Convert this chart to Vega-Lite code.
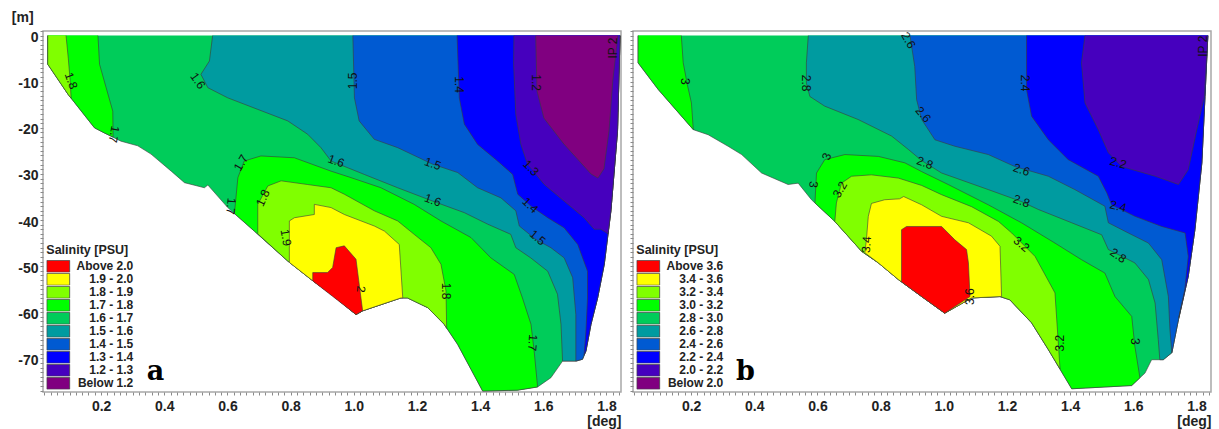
{
"$schema": "https://vega.github.io/schema/vega-lite/v6.json",
"background": "white",
"padding": {"left": 10, "top": 9, "right": 4, "bottom": 0},
"spacing": 12,
"bounds": "flush",
"resolve": {"scale": {"fill": "independent", "x": "independent", "y": "independent"}, "legend": {"fill": "independent"}},
"datasets": {
"polyA": [
{"cls":"1.6 - 1.7","poly":"a0","x":0.031,"y":0},{"cls":"1.6 - 1.7","poly":"a0","x":0.031,"y":-6.2},{"cls":"1.6 - 1.7","poly":"a0","x":0.095,"y":-12.7},{"cls":"1.6 - 1.7","poly":"a0","x":0.179,"y":-20.0},{"cls":"1.6 - 1.7","poly":"a0","x":0.210,"y":-21.1},{"cls":"1.6 - 1.7","poly":"a0","x":0.263,"y":-22.9},{"cls":"1.6 - 1.7","poly":"a0","x":0.316,"y":-23.9},{"cls":"1.6 - 1.7","poly":"a0","x":0.358,"y":-25.7},{"cls":"1.6 - 1.7","poly":"a0","x":0.422,"y":-29.4},{"cls":"1.6 - 1.7","poly":"a0","x":0.464,"y":-31.9},{"cls":"1.6 - 1.7","poly":"a0","x":0.527,"y":-33.0},{"cls":"1.6 - 1.7","poly":"a0","x":0.538,"y":-32.4},{"cls":"1.6 - 1.7","poly":"a0","x":0.601,"y":-37.3},{"cls":"1.6 - 1.7","poly":"a0","x":0.685,"y":-42.4},{"cls":"1.6 - 1.7","poly":"a0","x":0.791,"y":-48.9},{"cls":"1.6 - 1.7","poly":"a0","x":0.865,"y":-52.9},{"cls":"1.6 - 1.7","poly":"a0","x":0.928,"y":-56.1},{"cls":"1.6 - 1.7","poly":"a0","x":1.007,"y":-60.5},{"cls":"1.6 - 1.7","poly":"a0","x":1.028,"y":-59.7},{"cls":"1.6 - 1.7","poly":"a0","x":1.149,"y":-56.9},{"cls":"1.6 - 1.7","poly":"a0","x":1.170,"y":-56.9},{"cls":"1.6 - 1.7","poly":"a0","x":1.234,"y":-59.0},{"cls":"1.6 - 1.7","poly":"a0","x":1.286,"y":-62.6},{"cls":"1.6 - 1.7","poly":"a0","x":1.329,"y":-67.0},{"cls":"1.6 - 1.7","poly":"a0","x":1.408,"y":-77.1},{"cls":"1.6 - 1.7","poly":"a0","x":1.519,"y":-76.9},{"cls":"1.6 - 1.7","poly":"a0","x":1.582,"y":-76.2},{"cls":"1.6 - 1.7","poly":"a0","x":1.624,"y":-74.2},{"cls":"1.6 - 1.7","poly":"a0","x":1.661,"y":-70.6},{"cls":"1.6 - 1.7","poly":"a0","x":1.703,"y":-70.6},{"cls":"1.6 - 1.7","poly":"a0","x":1.724,"y":-70.2},{"cls":"1.6 - 1.7","poly":"a0","x":1.735,"y":-68.4},{"cls":"1.6 - 1.7","poly":"a0","x":1.751,"y":-62.6},{"cls":"1.6 - 1.7","poly":"a0","x":1.772,"y":-56.9},{"cls":"1.6 - 1.7","poly":"a0","x":1.793,"y":-49.6},{"cls":"1.6 - 1.7","poly":"a0","x":1.814,"y":-38.0},{"cls":"1.6 - 1.7","poly":"a0","x":1.835,"y":-20.7},{"cls":"1.6 - 1.7","poly":"a0","x":1.843,"y":0},
{"cls":"1.5 - 1.6","poly":"a1","x":0.553,"y":0},{"cls":"1.5 - 1.6","poly":"a1","x":0.543,"y":-5.5},{"cls":"1.5 - 1.6","poly":"a1","x":0.516,"y":-8.4},{"cls":"1.5 - 1.6","poly":"a1","x":0.538,"y":-11.3},{"cls":"1.5 - 1.6","poly":"a1","x":0.601,"y":-13.5},{"cls":"1.5 - 1.6","poly":"a1","x":0.696,"y":-16.0},{"cls":"1.5 - 1.6","poly":"a1","x":0.791,"y":-18.5},{"cls":"1.5 - 1.6","poly":"a1","x":0.854,"y":-21.4},{"cls":"1.5 - 1.6","poly":"a1","x":0.896,"y":-24.3},{"cls":"1.5 - 1.6","poly":"a1","x":0.928,"y":-27.2},{"cls":"1.5 - 1.6","poly":"a1","x":1.033,"y":-30.1},{"cls":"1.5 - 1.6","poly":"a1","x":1.139,"y":-33.0},{"cls":"1.5 - 1.6","poly":"a1","x":1.250,"y":-35.9},{"cls":"1.5 - 1.6","poly":"a1","x":1.350,"y":-38.4},{"cls":"1.5 - 1.6","poly":"a1","x":1.424,"y":-40.9},{"cls":"1.5 - 1.6","poly":"a1","x":1.497,"y":-43.1},{"cls":"1.5 - 1.6","poly":"a1","x":1.513,"y":-46.0},{"cls":"1.5 - 1.6","poly":"a1","x":1.560,"y":-48.2},{"cls":"1.5 - 1.6","poly":"a1","x":1.614,"y":-51.1},{"cls":"1.5 - 1.6","poly":"a1","x":1.645,"y":-56.1},{"cls":"1.5 - 1.6","poly":"a1","x":1.656,"y":-62.6},{"cls":"1.5 - 1.6","poly":"a1","x":1.661,"y":-70.6},{"cls":"1.5 - 1.6","poly":"a1","x":1.703,"y":-70.6},{"cls":"1.5 - 1.6","poly":"a1","x":1.724,"y":-70.2},{"cls":"1.5 - 1.6","poly":"a1","x":1.735,"y":-68.4},{"cls":"1.5 - 1.6","poly":"a1","x":1.751,"y":-62.6},{"cls":"1.5 - 1.6","poly":"a1","x":1.772,"y":-56.9},{"cls":"1.5 - 1.6","poly":"a1","x":1.793,"y":-49.6},{"cls":"1.5 - 1.6","poly":"a1","x":1.814,"y":-38.0},{"cls":"1.5 - 1.6","poly":"a1","x":1.835,"y":-20.7},{"cls":"1.5 - 1.6","poly":"a1","x":1.843,"y":0},
{"cls":"1.4 - 1.5","poly":"a2","x":0.997,"y":0},{"cls":"1.4 - 1.5","poly":"a2","x":1.002,"y":-13.5},{"cls":"1.4 - 1.5","poly":"a2","x":1.017,"y":-18.5},{"cls":"1.4 - 1.5","poly":"a2","x":1.065,"y":-22.5},{"cls":"1.4 - 1.5","poly":"a2","x":1.139,"y":-24.3},{"cls":"1.4 - 1.5","poly":"a2","x":1.250,"y":-27.9},{"cls":"1.4 - 1.5","poly":"a2","x":1.329,"y":-29.7},{"cls":"1.4 - 1.5","poly":"a2","x":1.392,"y":-33.0},{"cls":"1.4 - 1.5","poly":"a2","x":1.466,"y":-35.2},{"cls":"1.4 - 1.5","poly":"a2","x":1.513,"y":-38.0},{"cls":"1.4 - 1.5","poly":"a2","x":1.524,"y":-41.3},{"cls":"1.4 - 1.5","poly":"a2","x":1.576,"y":-44.2},{"cls":"1.4 - 1.5","poly":"a2","x":1.624,"y":-46.0},{"cls":"1.4 - 1.5","poly":"a2","x":1.666,"y":-48.2},{"cls":"1.4 - 1.5","poly":"a2","x":1.693,"y":-52.5},{"cls":"1.4 - 1.5","poly":"a2","x":1.703,"y":-60.5},{"cls":"1.4 - 1.5","poly":"a2","x":1.703,"y":-70.6},{"cls":"1.4 - 1.5","poly":"a2","x":1.724,"y":-70.2},{"cls":"1.4 - 1.5","poly":"a2","x":1.735,"y":-68.4},{"cls":"1.4 - 1.5","poly":"a2","x":1.751,"y":-62.6},{"cls":"1.4 - 1.5","poly":"a2","x":1.772,"y":-56.9},{"cls":"1.4 - 1.5","poly":"a2","x":1.793,"y":-49.6},{"cls":"1.4 - 1.5","poly":"a2","x":1.814,"y":-38.0},{"cls":"1.4 - 1.5","poly":"a2","x":1.835,"y":-20.7},{"cls":"1.4 - 1.5","poly":"a2","x":1.843,"y":0},
{"cls":"1.3 - 1.4","poly":"a3","x":1.327,"y":0},{"cls":"1.3 - 1.4","poly":"a3","x":1.334,"y":-13.5},{"cls":"1.3 - 1.4","poly":"a3","x":1.350,"y":-19.2},{"cls":"1.3 - 1.4","poly":"a3","x":1.392,"y":-23.6},{"cls":"1.3 - 1.4","poly":"a3","x":1.455,"y":-27.2},{"cls":"1.3 - 1.4","poly":"a3","x":1.503,"y":-30.1},{"cls":"1.3 - 1.4","poly":"a3","x":1.519,"y":-34.4},{"cls":"1.3 - 1.4","poly":"a3","x":1.561,"y":-37.0},{"cls":"1.3 - 1.4","poly":"a3","x":1.614,"y":-39.5},{"cls":"1.3 - 1.4","poly":"a3","x":1.666,"y":-41.7},{"cls":"1.3 - 1.4","poly":"a3","x":1.709,"y":-45.3},{"cls":"1.3 - 1.4","poly":"a3","x":1.740,"y":-51.1},{"cls":"1.3 - 1.4","poly":"a3","x":1.740,"y":-56.9},{"cls":"1.3 - 1.4","poly":"a3","x":1.735,"y":-64.1},{"cls":"1.3 - 1.4","poly":"a3","x":1.729,"y":-69.3},{"cls":"1.3 - 1.4","poly":"a3","x":1.735,"y":-68.4},{"cls":"1.3 - 1.4","poly":"a3","x":1.751,"y":-62.6},{"cls":"1.3 - 1.4","poly":"a3","x":1.772,"y":-56.9},{"cls":"1.3 - 1.4","poly":"a3","x":1.793,"y":-49.6},{"cls":"1.3 - 1.4","poly":"a3","x":1.814,"y":-38.0},{"cls":"1.3 - 1.4","poly":"a3","x":1.835,"y":-20.7},{"cls":"1.3 - 1.4","poly":"a3","x":1.843,"y":0},
{"cls":"1.2 - 1.3","poly":"a4","x":1.507,"y":0},{"cls":"1.2 - 1.3","poly":"a4","x":1.506,"y":-6.2},{"cls":"1.2 - 1.3","poly":"a4","x":1.513,"y":-17.1},{"cls":"1.2 - 1.3","poly":"a4","x":1.529,"y":-23.6},{"cls":"1.2 - 1.3","poly":"a4","x":1.550,"y":-27.9},{"cls":"1.2 - 1.3","poly":"a4","x":1.603,"y":-32.3},{"cls":"1.2 - 1.3","poly":"a4","x":1.666,"y":-35.9},{"cls":"1.2 - 1.3","poly":"a4","x":1.729,"y":-39.5},{"cls":"1.2 - 1.3","poly":"a4","x":1.761,"y":-42.0},{"cls":"1.2 - 1.3","poly":"a4","x":1.782,"y":-42.0},{"cls":"1.2 - 1.3","poly":"a4","x":1.805,"y":-43.0},{"cls":"1.2 - 1.3","poly":"a4","x":1.814,"y":-38.0},{"cls":"1.2 - 1.3","poly":"a4","x":1.835,"y":-20.7},{"cls":"1.2 - 1.3","poly":"a4","x":1.843,"y":0},
{"cls":"Below 1.2","poly":"a5","x":1.576,"y":0},{"cls":"Below 1.2","poly":"a5","x":1.580,"y":-12.0},{"cls":"Below 1.2","poly":"a5","x":1.602,"y":-17.9},{"cls":"Below 1.2","poly":"a5","x":1.665,"y":-23.5},{"cls":"Below 1.2","poly":"a5","x":1.751,"y":-30.0},{"cls":"Below 1.2","poly":"a5","x":1.773,"y":-30.9},{"cls":"Below 1.2","poly":"a5","x":1.792,"y":-28.9},{"cls":"Below 1.2","poly":"a5","x":1.808,"y":-20.7},{"cls":"Below 1.2","poly":"a5","x":1.820,"y":-9.8},{"cls":"Below 1.2","poly":"a5","x":1.836,"y":0},
{"cls":"1.7 - 1.8","poly":"a6a","x":0.190,"y":0},{"cls":"1.7 - 1.8","poly":"a6a","x":0.195,"y":-6.2},{"cls":"1.7 - 1.8","poly":"a6a","x":0.216,"y":-11.3},{"cls":"1.7 - 1.8","poly":"a6a","x":0.237,"y":-16.4},{"cls":"1.7 - 1.8","poly":"a6a","x":0.238,"y":-22.0},{"cls":"1.7 - 1.8","poly":"a6a","x":0.210,"y":-21.1},{"cls":"1.7 - 1.8","poly":"a6a","x":0.179,"y":-20.0},{"cls":"1.7 - 1.8","poly":"a6a","x":0.095,"y":-12.7},{"cls":"1.7 - 1.8","poly":"a6a","x":0.031,"y":-6.2},{"cls":"1.7 - 1.8","poly":"a6a","x":0.031,"y":0},
{"cls":"1.7 - 1.8","poly":"a6b","x":0.622,"y":-38.6},{"cls":"1.7 - 1.8","poly":"a6b","x":0.633,"y":-30.8},{"cls":"1.7 - 1.8","poly":"a6b","x":0.653,"y":-27.2},{"cls":"1.7 - 1.8","poly":"a6b","x":0.706,"y":-26.1},{"cls":"1.7 - 1.8","poly":"a6b","x":0.812,"y":-26.5},{"cls":"1.7 - 1.8","poly":"a6b","x":0.928,"y":-29.4},{"cls":"1.7 - 1.8","poly":"a6b","x":0.991,"y":-30.8},{"cls":"1.7 - 1.8","poly":"a6b","x":1.086,"y":-33.0},{"cls":"1.7 - 1.8","poly":"a6b","x":1.191,"y":-36.6},{"cls":"1.7 - 1.8","poly":"a6b","x":1.276,"y":-40.2},{"cls":"1.7 - 1.8","poly":"a6b","x":1.371,"y":-43.8},{"cls":"1.7 - 1.8","poly":"a6b","x":1.434,"y":-48.2},{"cls":"1.7 - 1.8","poly":"a6b","x":1.508,"y":-51.8},{"cls":"1.7 - 1.8","poly":"a6b","x":1.534,"y":-56.9},{"cls":"1.7 - 1.8","poly":"a6b","x":1.561,"y":-62.6},{"cls":"1.7 - 1.8","poly":"a6b","x":1.571,"y":-68.4},{"cls":"1.7 - 1.8","poly":"a6b","x":1.582,"y":-76.2},{"cls":"1.7 - 1.8","poly":"a6b","x":1.519,"y":-76.9},{"cls":"1.7 - 1.8","poly":"a6b","x":1.408,"y":-77.1},{"cls":"1.7 - 1.8","poly":"a6b","x":1.329,"y":-67.0},{"cls":"1.7 - 1.8","poly":"a6b","x":1.286,"y":-62.6},{"cls":"1.7 - 1.8","poly":"a6b","x":1.234,"y":-59.0},{"cls":"1.7 - 1.8","poly":"a6b","x":1.170,"y":-56.9},{"cls":"1.7 - 1.8","poly":"a6b","x":1.149,"y":-56.9},{"cls":"1.7 - 1.8","poly":"a6b","x":1.028,"y":-59.7},{"cls":"1.7 - 1.8","poly":"a6b","x":1.007,"y":-60.5},{"cls":"1.7 - 1.8","poly":"a6b","x":0.928,"y":-56.1},{"cls":"1.7 - 1.8","poly":"a6b","x":0.865,"y":-52.9},{"cls":"1.7 - 1.8","poly":"a6b","x":0.791,"y":-48.9},{"cls":"1.7 - 1.8","poly":"a6b","x":0.685,"y":-42.4},{"cls":"1.7 - 1.8","poly":"a6b","x":0.622,"y":-38.6},
{"cls":"1.8 - 1.9","poly":"a7a","x":0.089,"y":0},{"cls":"1.8 - 1.9","poly":"a7a","x":0.096,"y":-4.9},{"cls":"1.8 - 1.9","poly":"a7a","x":0.102,"y":-9.8},{"cls":"1.8 - 1.9","poly":"a7a","x":0.105,"y":-13.6},{"cls":"1.8 - 1.9","poly":"a7a","x":0.095,"y":-12.7},{"cls":"1.8 - 1.9","poly":"a7a","x":0.031,"y":-6.2},{"cls":"1.8 - 1.9","poly":"a7a","x":0.031,"y":0},
{"cls":"1.8 - 1.9","poly":"a7b","x":0.696,"y":-43.0},{"cls":"1.8 - 1.9","poly":"a7b","x":0.696,"y":-36.6},{"cls":"1.8 - 1.9","poly":"a7b","x":0.728,"y":-32.6},{"cls":"1.8 - 1.9","poly":"a7b","x":0.770,"y":-31.5},{"cls":"1.8 - 1.9","poly":"a7b","x":0.854,"y":-32.3},{"cls":"1.8 - 1.9","poly":"a7b","x":0.928,"y":-33.0},{"cls":"1.8 - 1.9","poly":"a7b","x":0.970,"y":-34.4},{"cls":"1.8 - 1.9","poly":"a7b","x":1.065,"y":-38.0},{"cls":"1.8 - 1.9","poly":"a7b","x":1.139,"y":-40.2},{"cls":"1.8 - 1.9","poly":"a7b","x":1.191,"y":-43.1},{"cls":"1.8 - 1.9","poly":"a7b","x":1.244,"y":-46.0},{"cls":"1.8 - 1.9","poly":"a7b","x":1.276,"y":-49.6},{"cls":"1.8 - 1.9","poly":"a7b","x":1.292,"y":-55.4},{"cls":"1.8 - 1.9","poly":"a7b","x":1.294,"y":-63.5},{"cls":"1.8 - 1.9","poly":"a7b","x":1.286,"y":-62.6},{"cls":"1.8 - 1.9","poly":"a7b","x":1.234,"y":-59.0},{"cls":"1.8 - 1.9","poly":"a7b","x":1.170,"y":-56.9},{"cls":"1.8 - 1.9","poly":"a7b","x":1.149,"y":-56.9},{"cls":"1.8 - 1.9","poly":"a7b","x":1.028,"y":-59.7},{"cls":"1.8 - 1.9","poly":"a7b","x":1.007,"y":-60.5},{"cls":"1.8 - 1.9","poly":"a7b","x":0.928,"y":-56.1},{"cls":"1.8 - 1.9","poly":"a7b","x":0.865,"y":-52.9},{"cls":"1.8 - 1.9","poly":"a7b","x":0.791,"y":-48.9},{"cls":"1.8 - 1.9","poly":"a7b","x":0.696,"y":-43.0},
{"cls":"1.9 - 2.0","poly":"a8","x":0.796,"y":-49.2},{"cls":"1.9 - 2.0","poly":"a8","x":0.796,"y":-40.2},{"cls":"1.9 - 2.0","poly":"a8","x":0.812,"y":-39.5},{"cls":"1.9 - 2.0","poly":"a8","x":0.875,"y":-38.8},{"cls":"1.9 - 2.0","poly":"a8","x":0.875,"y":-36.6},{"cls":"1.9 - 2.0","poly":"a8","x":0.928,"y":-37.3},{"cls":"1.9 - 2.0","poly":"a8","x":0.970,"y":-38.8},{"cls":"1.9 - 2.0","poly":"a8","x":1.065,"y":-41.3},{"cls":"1.9 - 2.0","poly":"a8","x":1.097,"y":-42.4},{"cls":"1.9 - 2.0","poly":"a8","x":1.144,"y":-45.3},{"cls":"1.9 - 2.0","poly":"a8","x":1.155,"y":-56.9},{"cls":"1.9 - 2.0","poly":"a8","x":1.149,"y":-56.9},{"cls":"1.9 - 2.0","poly":"a8","x":1.028,"y":-59.7},{"cls":"1.9 - 2.0","poly":"a8","x":1.007,"y":-60.5},{"cls":"1.9 - 2.0","poly":"a8","x":0.928,"y":-56.1},{"cls":"1.9 - 2.0","poly":"a8","x":0.865,"y":-52.9},{"cls":"1.9 - 2.0","poly":"a8","x":0.796,"y":-49.2},
{"cls":"Above 2.0","poly":"a9","x":0.944,"y":-46.0},{"cls":"Above 2.0","poly":"a9","x":0.970,"y":-45.6},{"cls":"Above 2.0","poly":"a9","x":1.007,"y":-48.5},{"cls":"Above 2.0","poly":"a9","x":1.028,"y":-59.7},{"cls":"Above 2.0","poly":"a9","x":1.007,"y":-60.5},{"cls":"Above 2.0","poly":"a9","x":0.870,"y":-53.2},{"cls":"Above 2.0","poly":"a9","x":0.870,"y":-51.4},{"cls":"Above 2.0","poly":"a9","x":0.917,"y":-51.4},{"cls":"Above 2.0","poly":"a9","x":0.933,"y":-50.3},{"cls":"Above 2.0","poly":"a9","x":0.944,"y":-46.0}
],
"polyB": [
{"cls":"2.8 - 3.0","poly":"b0","x":0.032,"y":0},{"cls":"2.8 - 3.0","poly":"b0","x":0.032,"y":-5.9},{"cls":"2.8 - 3.0","poly":"b0","x":0.096,"y":-11.7},{"cls":"2.8 - 3.0","poly":"b0","x":0.207,"y":-20.4},{"cls":"2.8 - 3.0","poly":"b0","x":0.254,"y":-21.5},{"cls":"2.8 - 3.0","poly":"b0","x":0.317,"y":-24.0},{"cls":"2.8 - 3.0","poly":"b0","x":0.360,"y":-25.8},{"cls":"2.8 - 3.0","poly":"b0","x":0.423,"y":-29.8},{"cls":"2.8 - 3.0","poly":"b0","x":0.507,"y":-32.3},{"cls":"2.8 - 3.0","poly":"b0","x":0.539,"y":-32.0},{"cls":"2.8 - 3.0","poly":"b0","x":0.581,"y":-35.6},{"cls":"2.8 - 3.0","poly":"b0","x":0.655,"y":-40.3},{"cls":"2.8 - 3.0","poly":"b0","x":0.740,"y":-46.8},{"cls":"2.8 - 3.0","poly":"b0","x":0.793,"y":-49.3},{"cls":"2.8 - 3.0","poly":"b0","x":0.856,"y":-52.9},{"cls":"2.8 - 3.0","poly":"b0","x":0.930,"y":-56.6},{"cls":"2.8 - 3.0","poly":"b0","x":1.003,"y":-60.2},{"cls":"2.8 - 3.0","poly":"b0","x":1.088,"y":-56.9},{"cls":"2.8 - 3.0","poly":"b0","x":1.178,"y":-56.6},{"cls":"2.8 - 3.0","poly":"b0","x":1.209,"y":-57.3},{"cls":"2.8 - 3.0","poly":"b0","x":1.278,"y":-62.3},{"cls":"2.8 - 3.0","poly":"b0","x":1.331,"y":-68.1},{"cls":"2.8 - 3.0","poly":"b0","x":1.405,"y":-76.6},{"cls":"2.8 - 3.0","poly":"b0","x":1.595,"y":-75.9},{"cls":"2.8 - 3.0","poly":"b0","x":1.637,"y":-73.2},{"cls":"2.8 - 3.0","poly":"b0","x":1.658,"y":-70.3},{"cls":"2.8 - 3.0","poly":"b0","x":1.695,"y":-70.3},{"cls":"2.8 - 3.0","poly":"b0","x":1.722,"y":-68.8},{"cls":"2.8 - 3.0","poly":"b0","x":1.743,"y":-61.6},{"cls":"2.8 - 3.0","poly":"b0","x":1.774,"y":-52.2},{"cls":"2.8 - 3.0","poly":"b0","x":1.795,"y":-42.1},{"cls":"2.8 - 3.0","poly":"b0","x":1.817,"y":-27.6},{"cls":"2.8 - 3.0","poly":"b0","x":1.827,"y":-13.2},{"cls":"2.8 - 3.0","poly":"b0","x":1.836,"y":0},
{"cls":"2.6 - 2.8","poly":"b1","x":0.571,"y":0},{"cls":"2.6 - 2.8","poly":"b1","x":0.565,"y":-5.9},{"cls":"2.6 - 2.8","poly":"b1","x":0.565,"y":-10.3},{"cls":"2.6 - 2.8","poly":"b1","x":0.576,"y":-13.2},{"cls":"2.6 - 2.8","poly":"b1","x":0.623,"y":-15.3},{"cls":"2.6 - 2.8","poly":"b1","x":0.729,"y":-18.2},{"cls":"2.6 - 2.8","poly":"b1","x":0.835,"y":-21.8},{"cls":"2.6 - 2.8","poly":"b1","x":0.888,"y":-24.7},{"cls":"2.6 - 2.8","poly":"b1","x":0.930,"y":-27.1},{"cls":"2.6 - 2.8","poly":"b1","x":0.993,"y":-29.8},{"cls":"2.6 - 2.8","poly":"b1","x":1.141,"y":-33.4},{"cls":"2.6 - 2.8","poly":"b1","x":1.246,"y":-36.0},{"cls":"2.6 - 2.8","poly":"b1","x":1.299,"y":-37.7},{"cls":"2.6 - 2.8","poly":"b1","x":1.405,"y":-40.6},{"cls":"2.6 - 2.8","poly":"b1","x":1.500,"y":-43.2},{"cls":"2.6 - 2.8","poly":"b1","x":1.521,"y":-46.4},{"cls":"2.6 - 2.8","poly":"b1","x":1.605,"y":-49.3},{"cls":"2.6 - 2.8","poly":"b1","x":1.648,"y":-52.9},{"cls":"2.6 - 2.8","poly":"b1","x":1.669,"y":-58.0},{"cls":"2.6 - 2.8","poly":"b1","x":1.679,"y":-65.9},{"cls":"2.6 - 2.8","poly":"b1","x":1.684,"y":-70.3},{"cls":"2.6 - 2.8","poly":"b1","x":1.695,"y":-70.3},{"cls":"2.6 - 2.8","poly":"b1","x":1.722,"y":-68.8},{"cls":"2.6 - 2.8","poly":"b1","x":1.743,"y":-61.6},{"cls":"2.6 - 2.8","poly":"b1","x":1.774,"y":-52.2},{"cls":"2.6 - 2.8","poly":"b1","x":1.795,"y":-42.1},{"cls":"2.6 - 2.8","poly":"b1","x":1.817,"y":-27.6},{"cls":"2.6 - 2.8","poly":"b1","x":1.827,"y":-13.2},{"cls":"2.6 - 2.8","poly":"b1","x":1.836,"y":0},
{"cls":"2.4 - 2.6","poly":"b2","x":0.893,"y":0},{"cls":"2.4 - 2.6","poly":"b2","x":0.908,"y":-6.7},{"cls":"2.4 - 2.6","poly":"b2","x":0.914,"y":-13.9},{"cls":"2.4 - 2.6","poly":"b2","x":0.930,"y":-18.2},{"cls":"2.4 - 2.6","poly":"b2","x":0.972,"y":-22.6},{"cls":"2.4 - 2.6","poly":"b2","x":1.035,"y":-24.0},{"cls":"2.4 - 2.6","poly":"b2","x":1.141,"y":-25.8},{"cls":"2.4 - 2.6","poly":"b2","x":1.225,"y":-28.4},{"cls":"2.4 - 2.6","poly":"b2","x":1.331,"y":-30.5},{"cls":"2.4 - 2.6","poly":"b2","x":1.415,"y":-33.4},{"cls":"2.4 - 2.6","poly":"b2","x":1.510,"y":-37.0},{"cls":"2.4 - 2.6","poly":"b2","x":1.521,"y":-40.6},{"cls":"2.4 - 2.6","poly":"b2","x":1.584,"y":-42.8},{"cls":"2.4 - 2.6","poly":"b2","x":1.648,"y":-45.0},{"cls":"2.4 - 2.6","poly":"b2","x":1.690,"y":-48.6},{"cls":"2.4 - 2.6","poly":"b2","x":1.711,"y":-56.6},{"cls":"2.4 - 2.6","poly":"b2","x":1.716,"y":-63.8},{"cls":"2.4 - 2.6","poly":"b2","x":1.722,"y":-68.8},{"cls":"2.4 - 2.6","poly":"b2","x":1.743,"y":-61.6},{"cls":"2.4 - 2.6","poly":"b2","x":1.774,"y":-52.2},{"cls":"2.4 - 2.6","poly":"b2","x":1.795,"y":-42.1},{"cls":"2.4 - 2.6","poly":"b2","x":1.817,"y":-27.6},{"cls":"2.4 - 2.6","poly":"b2","x":1.827,"y":-13.2},{"cls":"2.4 - 2.6","poly":"b2","x":1.836,"y":0},
{"cls":"2.2 - 2.4","poly":"b3","x":1.262,"y":0},{"cls":"2.2 - 2.4","poly":"b3","x":1.262,"y":-11.7},{"cls":"2.2 - 2.4","poly":"b3","x":1.278,"y":-17.5},{"cls":"2.2 - 2.4","poly":"b3","x":1.331,"y":-22.6},{"cls":"2.2 - 2.4","poly":"b3","x":1.394,"y":-26.9},{"cls":"2.2 - 2.4","poly":"b3","x":1.489,"y":-30.5},{"cls":"2.2 - 2.4","poly":"b3","x":1.516,"y":-34.1},{"cls":"2.2 - 2.4","poly":"b3","x":1.531,"y":-36.7},{"cls":"2.2 - 2.4","poly":"b3","x":1.605,"y":-39.2},{"cls":"2.2 - 2.4","poly":"b3","x":1.690,"y":-41.4},{"cls":"2.2 - 2.4","poly":"b3","x":1.764,"y":-42.8},{"cls":"2.2 - 2.4","poly":"b3","x":1.774,"y":-47.9},{"cls":"2.2 - 2.4","poly":"b3","x":1.763,"y":-55.1},{"cls":"2.2 - 2.4","poly":"b3","x":1.744,"y":-61.2},{"cls":"2.2 - 2.4","poly":"b3","x":1.774,"y":-52.2},{"cls":"2.2 - 2.4","poly":"b3","x":1.795,"y":-42.1},{"cls":"2.2 - 2.4","poly":"b3","x":1.817,"y":-27.6},{"cls":"2.2 - 2.4","poly":"b3","x":1.827,"y":-13.2},{"cls":"2.2 - 2.4","poly":"b3","x":1.836,"y":0},
{"cls":"2.0 - 2.2","poly":"b4","x":1.447,"y":0},{"cls":"2.0 - 2.2","poly":"b4","x":1.436,"y":-5.9},{"cls":"2.0 - 2.2","poly":"b4","x":1.447,"y":-14.6},{"cls":"2.0 - 2.2","poly":"b4","x":1.489,"y":-20.4},{"cls":"2.0 - 2.2","poly":"b4","x":1.521,"y":-25.4},{"cls":"2.0 - 2.2","poly":"b4","x":1.563,"y":-28.4},{"cls":"2.0 - 2.2","poly":"b4","x":1.669,"y":-30.5},{"cls":"2.0 - 2.2","poly":"b4","x":1.743,"y":-32.3},{"cls":"2.0 - 2.2","poly":"b4","x":1.774,"y":-29.1},{"cls":"2.0 - 2.2","poly":"b4","x":1.801,"y":-20.4},{"cls":"2.0 - 2.2","poly":"b4","x":1.825,"y":-13.2},{"cls":"2.0 - 2.2","poly":"b4","x":1.836,"y":0},
{"cls":"3.0 - 3.2","poly":"b5a","x":0.169,"y":0},{"cls":"3.0 - 3.2","poly":"b5a","x":0.175,"y":-5.9},{"cls":"3.0 - 3.2","poly":"b5a","x":0.188,"y":-10.6},{"cls":"3.0 - 3.2","poly":"b5a","x":0.201,"y":-14.6},{"cls":"3.0 - 3.2","poly":"b5a","x":0.207,"y":-20.4},{"cls":"3.0 - 3.2","poly":"b5a","x":0.096,"y":-11.7},{"cls":"3.0 - 3.2","poly":"b5a","x":0.032,"y":-5.9},{"cls":"3.0 - 3.2","poly":"b5a","x":0.032,"y":0},
{"cls":"3.0 - 3.2","poly":"b5b","x":0.592,"y":-36.3},{"cls":"3.0 - 3.2","poly":"b5b","x":0.597,"y":-29.8},{"cls":"3.0 - 3.2","poly":"b5b","x":0.623,"y":-26.9},{"cls":"3.0 - 3.2","poly":"b5b","x":0.687,"y":-25.8},{"cls":"3.0 - 3.2","poly":"b5b","x":0.793,"y":-26.2},{"cls":"3.0 - 3.2","poly":"b5b","x":0.877,"y":-27.6},{"cls":"3.0 - 3.2","poly":"b5b","x":0.930,"y":-29.5},{"cls":"3.0 - 3.2","poly":"b5b","x":1.014,"y":-32.3},{"cls":"3.0 - 3.2","poly":"b5b","x":1.141,"y":-36.7},{"cls":"3.0 - 3.2","poly":"b5b","x":1.246,"y":-40.6},{"cls":"3.0 - 3.2","poly":"b5b","x":1.352,"y":-45.0},{"cls":"3.0 - 3.2","poly":"b5b","x":1.436,"y":-48.6},{"cls":"3.0 - 3.2","poly":"b5b","x":1.510,"y":-51.5},{"cls":"3.0 - 3.2","poly":"b5b","x":1.542,"y":-56.6},{"cls":"3.0 - 3.2","poly":"b5b","x":1.595,"y":-60.9},{"cls":"3.0 - 3.2","poly":"b5b","x":1.605,"y":-67.4},{"cls":"3.0 - 3.2","poly":"b5b","x":1.621,"y":-74.2},{"cls":"3.0 - 3.2","poly":"b5b","x":1.595,"y":-75.9},{"cls":"3.0 - 3.2","poly":"b5b","x":1.405,"y":-76.6},{"cls":"3.0 - 3.2","poly":"b5b","x":1.331,"y":-68.1},{"cls":"3.0 - 3.2","poly":"b5b","x":1.278,"y":-62.3},{"cls":"3.0 - 3.2","poly":"b5b","x":1.209,"y":-57.3},{"cls":"3.0 - 3.2","poly":"b5b","x":1.178,"y":-56.6},{"cls":"3.0 - 3.2","poly":"b5b","x":1.088,"y":-56.9},{"cls":"3.0 - 3.2","poly":"b5b","x":1.003,"y":-60.2},{"cls":"3.0 - 3.2","poly":"b5b","x":0.930,"y":-56.6},{"cls":"3.0 - 3.2","poly":"b5b","x":0.856,"y":-52.9},{"cls":"3.0 - 3.2","poly":"b5b","x":0.793,"y":-49.3},{"cls":"3.0 - 3.2","poly":"b5b","x":0.740,"y":-46.8},{"cls":"3.0 - 3.2","poly":"b5b","x":0.655,"y":-40.3},{"cls":"3.0 - 3.2","poly":"b5b","x":0.592,"y":-36.3},
{"cls":"3.2 - 3.4","poly":"b6","x":0.655,"y":-40.3},{"cls":"3.2 - 3.4","poly":"b6","x":0.660,"y":-36.3},{"cls":"3.2 - 3.4","poly":"b6","x":0.676,"y":-32.0},{"cls":"3.2 - 3.4","poly":"b6","x":0.708,"y":-30.5},{"cls":"3.2 - 3.4","poly":"b6","x":0.771,"y":-30.2},{"cls":"3.2 - 3.4","poly":"b6","x":0.856,"y":-30.9},{"cls":"3.2 - 3.4","poly":"b6","x":0.930,"y":-32.5},{"cls":"3.2 - 3.4","poly":"b6","x":0.993,"y":-34.5},{"cls":"3.2 - 3.4","poly":"b6","x":1.088,"y":-37.1},{"cls":"3.2 - 3.4","poly":"b6","x":1.173,"y":-40.3},{"cls":"3.2 - 3.4","poly":"b6","x":1.215,"y":-42.8},{"cls":"3.2 - 3.4","poly":"b6","x":1.289,"y":-47.9},{"cls":"3.2 - 3.4","poly":"b6","x":1.352,"y":-55.8},{"cls":"3.2 - 3.4","poly":"b6","x":1.368,"y":-72.3},{"cls":"3.2 - 3.4","poly":"b6","x":1.331,"y":-68.1},{"cls":"3.2 - 3.4","poly":"b6","x":1.278,"y":-62.3},{"cls":"3.2 - 3.4","poly":"b6","x":1.209,"y":-57.3},{"cls":"3.2 - 3.4","poly":"b6","x":1.178,"y":-56.6},{"cls":"3.2 - 3.4","poly":"b6","x":1.088,"y":-56.9},{"cls":"3.2 - 3.4","poly":"b6","x":1.003,"y":-60.2},{"cls":"3.2 - 3.4","poly":"b6","x":0.930,"y":-56.6},{"cls":"3.2 - 3.4","poly":"b6","x":0.856,"y":-52.9},{"cls":"3.2 - 3.4","poly":"b6","x":0.793,"y":-49.3},{"cls":"3.2 - 3.4","poly":"b6","x":0.740,"y":-46.8},{"cls":"3.2 - 3.4","poly":"b6","x":0.655,"y":-40.3},
{"cls":"3.4 - 3.6","poly":"b7","x":0.750,"y":-47.1},{"cls":"3.4 - 3.6","poly":"b7","x":0.755,"y":-44.3},{"cls":"3.4 - 3.6","poly":"b7","x":0.761,"y":-39.2},{"cls":"3.4 - 3.6","poly":"b7","x":0.771,"y":-36.4},{"cls":"3.4 - 3.6","poly":"b7","x":0.813,"y":-35.6},{"cls":"3.4 - 3.6","poly":"b7","x":0.860,"y":-35.4},{"cls":"3.4 - 3.6","poly":"b7","x":0.873,"y":-34.9},{"cls":"3.4 - 3.6","poly":"b7","x":0.930,"y":-36.7},{"cls":"3.4 - 3.6","poly":"b7","x":0.993,"y":-39.2},{"cls":"3.4 - 3.6","poly":"b7","x":1.078,"y":-40.6},{"cls":"3.4 - 3.6","poly":"b7","x":1.151,"y":-43.5},{"cls":"3.4 - 3.6","poly":"b7","x":1.178,"y":-45.7},{"cls":"3.4 - 3.6","poly":"b7","x":1.183,"y":-56.6},{"cls":"3.4 - 3.6","poly":"b7","x":1.178,"y":-56.6},{"cls":"3.4 - 3.6","poly":"b7","x":1.088,"y":-56.9},{"cls":"3.4 - 3.6","poly":"b7","x":1.003,"y":-60.2},{"cls":"3.4 - 3.6","poly":"b7","x":0.930,"y":-56.6},{"cls":"3.4 - 3.6","poly":"b7","x":0.856,"y":-52.9},{"cls":"3.4 - 3.6","poly":"b7","x":0.793,"y":-49.3},{"cls":"3.4 - 3.6","poly":"b7","x":0.750,"y":-47.1},
{"cls":"Above 3.6","poly":"b8","x":0.866,"y":-42.1},{"cls":"Above 3.6","poly":"b8","x":0.882,"y":-41.4},{"cls":"Above 3.6","poly":"b8","x":0.993,"y":-41.4},{"cls":"Above 3.6","poly":"b8","x":1.035,"y":-44.3},{"cls":"Above 3.6","poly":"b8","x":1.072,"y":-46.4},{"cls":"Above 3.6","poly":"b8","x":1.078,"y":-49.3},{"cls":"Above 3.6","poly":"b8","x":1.083,"y":-56.6},{"cls":"Above 3.6","poly":"b8","x":1.003,"y":-60.2},{"cls":"Above 3.6","poly":"b8","x":0.930,"y":-56.6},{"cls":"Above 3.6","poly":"b8","x":0.866,"y":-53.4},{"cls":"Above 3.6","poly":"b8","x":0.866,"y":-42.1}
],
"labA": [
{"t":"1.8","x":0.105,"y":-9.8,"a":70},{"t":"1.7","x":0.241,"y":-21.4,"a":100},{"t":"1.6","x":0.506,"y":-9.8,"a":55},{"t":"1.7","x":0.643,"y":-27.6,"a":-60},{"t":"1.7","x":0.611,"y":-37.0,"a":95},{"t":"1.8","x":0.712,"y":-35.2,"a":-65},{"t":"1.9","x":0.785,"y":-43.8,"a":80},{"t":"2","x":1.023,"y":-55.0,"a":95},{"t":"1.8","x":1.292,"y":-55.4,"a":90},{"t":"1.7","x":1.566,"y":-66.6,"a":95},{"t":"1.5","x":0.997,"y":-9.8,"a":-90},{"t":"1.4","x":1.334,"y":-10.6,"a":90},{"t":"1.2","x":1.576,"y":-10.2,"a":90},{"t":"1.6","x":0.944,"y":-27.2,"a":20},{"t":"1.5","x":1.250,"y":-27.8,"a":20},{"t":"1.6","x":1.250,"y":-35.7,"a":20},{"t":"1.3","x":1.561,"y":-28.7,"a":45},{"t":"1.4","x":1.559,"y":-36.8,"a":45},{"t":"1.5","x":1.582,"y":-43.8,"a":40},{"t":"IP 2","x":1.820,"y":-2.7,"a":-90}
],
"labB": [
{"t":"3","x":0.180,"y":-9.9,"a":90},{"t":"2.8","x":0.565,"y":-10.3,"a":90},{"t":"2.6","x":0.888,"y":-1.0,"a":60},{"t":"2.6","x":0.935,"y":-17.1,"a":50},{"t":"2.8","x":0.940,"y":-27.6,"a":20},{"t":"3","x":0.629,"y":-26.2,"a":-70},{"t":"3","x":0.587,"y":-32.3,"a":95},{"t":"3.2","x":0.671,"y":-33.4,"a":-60},{"t":"3.4","x":0.755,"y":-45.3,"a":-85},{"t":"2.4","x":1.257,"y":-10.3,"a":90},{"t":"2.6","x":1.246,"y":-29.1,"a":20},{"t":"2.8","x":1.246,"y":-35.9,"a":20},{"t":"3.2","x":1.246,"y":-45.2,"a":40},{"t":"2.2","x":1.552,"y":-27.6,"a":15},{"t":"2.4","x":1.552,"y":-37.0,"a":15},{"t":"2.8","x":1.552,"y":-47.7,"a":35},{"t":"3.6","x":1.083,"y":-56.6,"a":-90},{"t":"3.2","x":1.368,"y":-66.7,"a":-90},{"t":"3","x":1.605,"y":-66.3,"a":90},{"t":"IP 2","x":1.822,"y":-2.3,"a":-90}
]
},
"hconcat": [
{
"width": 578, "height": 361,
"encoding": {
"x": {"field": "x", "type": "quantitative", "scale": {"domain": [0.016, 1.846], "nice": false, "zero": false},
 "axis": {"title": "[deg]", "titleX": 578, "titleY": 29, "titleAlign": "right", "titleBaseline": "middle", "tickCount": 92, "labelExpr": "abs(datum.value*5-round(datum.value*5))<0.001 ? format(datum.value,'.1f') : ''", "labelPadding": 4}},
"y": {"field": "y", "type": "quantitative", "scale": {"domain": [-77.3, 1], "nice": false, "zero": false},
 "axis": {"title": "[m]", "titleX": -31.7, "titleY": -14, "titleAngle": 0, "titleAlign": "left", "titleBaseline": "middle", "tickCount": 79, "labelExpr": "datum.value%10==0 ? (datum.value==0 ? '0' : '-'+abs(datum.value)) : ''", "labelPadding": 2, "labelOffset": 2}}
},
"layer": [
{
"data": {"name": "polyA"},
"encoding": {
"fill": {"field": "cls", "type": "nominal",
 "scale": {"domain": ["Above 2.0","1.9 - 2.0","1.8 - 1.9","1.7 - 1.8","1.6 - 1.7","1.5 - 1.6","1.4 - 1.5","1.3 - 1.4","1.2 - 1.3","Below 1.2"],
  "range": ["#ff0000","#ffff00","#80ff00","#00ff00","#00cc5a","#009ba0","#005ad2","#0000ff","#4600be","#800080"]},
 "legend": {"title": "Salinity [PSU]", "orient": "none", "legendX": 3.3, "legendY": 213, "symbolType": "M-1,-1H2.85V1H-1Z", "symbolSize": 140, "labelAlign": "right", "labelOffset": 74, "rowPadding": 0, "titlePadding": 3.5, "clipHeight": 12.6}},
"detail": {"field": "poly"},
"order": {"value": null}
},
"layer": [
{"transform": [{"filter": {"field": "cls", "equal": "1.6 - 1.7"}}], "mark": {"type": "line", "stroke": "#3a3a3a", "strokeWidth": 0.6, "strokeJoin": "round"}},
{"transform": [{"filter": {"field": "cls", "equal": "1.5 - 1.6"}}], "mark": {"type": "line", "stroke": "#3a3a3a", "strokeWidth": 0.6, "strokeJoin": "round"}},
{"transform": [{"filter": {"field": "cls", "equal": "1.4 - 1.5"}}], "mark": {"type": "line", "stroke": "#3a3a3a", "strokeWidth": 0.6, "strokeJoin": "round"}},
{"transform": [{"filter": {"field": "cls", "equal": "1.3 - 1.4"}}], "mark": {"type": "line", "stroke": "#3a3a3a", "strokeWidth": 0.6, "strokeJoin": "round"}},
{"transform": [{"filter": {"field": "cls", "equal": "1.2 - 1.3"}}], "mark": {"type": "line", "stroke": "#3a3a3a", "strokeWidth": 0.6, "strokeJoin": "round"}},
{"transform": [{"filter": {"field": "cls", "equal": "Below 1.2"}}], "mark": {"type": "line", "stroke": "#3a3a3a", "strokeWidth": 0.6, "strokeJoin": "round"}},
{"transform": [{"filter": {"field": "cls", "equal": "1.7 - 1.8"}}], "mark": {"type": "line", "stroke": "#3a3a3a", "strokeWidth": 0.6, "strokeJoin": "round"}},
{"transform": [{"filter": {"field": "cls", "equal": "1.8 - 1.9"}}], "mark": {"type": "line", "stroke": "#3a3a3a", "strokeWidth": 0.6, "strokeJoin": "round"}},
{"transform": [{"filter": {"field": "cls", "equal": "1.9 - 2.0"}}], "mark": {"type": "line", "stroke": "#3a3a3a", "strokeWidth": 0.6, "strokeJoin": "round"}},
{"transform": [{"filter": {"field": "cls", "equal": "Above 2.0"}}], "mark": {"type": "line", "stroke": "#3a3a3a", "strokeWidth": 0.6, "strokeJoin": "round"}}
]
},
{"data": {"name": "labA"}, "mark": {"type": "text", "font": "Liberation Sans", "fontSize": 12, "align": "center", "baseline": "middle", "color": "#111"},
 "encoding": {"text": {"field": "t"}, "angle": {"field": "a", "type": "quantitative", "scale": null}}},
{"data": {"values": [{"t": "a", "x": 0.372, "y": -74.8}]}, "mark": {"type": "text", "font": "DejaVu Serif", "fontSize": 27, "fontWeight": "bold", "align": "center", "baseline": "alphabetic", "color": "#000"},
 "encoding": {"text": {"field": "t"}}}
]
},
{
"width": 578, "height": 361,
"encoding": {
"x": {"field": "x", "type": "quantitative", "scale": {"domain": [0.016, 1.846], "nice": false, "zero": false},
 "axis": {"title": "[deg]", "titleX": 578, "titleY": 29, "titleAlign": "right", "titleBaseline": "middle", "tickCount": 92, "labelExpr": "abs(datum.value*5-round(datum.value*5))<0.001 ? format(datum.value,'.1f') : ''", "labelPadding": 4}},
"y": {"field": "y", "type": "quantitative", "scale": {"domain": [-77.3, 1], "nice": false, "zero": false},
 "axis": {"title": null, "labels": false, "tickCount": 79}}
},
"layer": [
{
"data": {"name": "polyB"},
"encoding": {
"fill": {"field": "cls", "type": "nominal",
 "scale": {"domain": ["Above 3.6","3.4 - 3.6","3.2 - 3.4","3.0 - 3.2","2.8 - 3.0","2.6 - 2.8","2.4 - 2.6","2.2 - 2.4","2.0 - 2.2","Below 2.0"],
  "range": ["#ff0000","#ffff00","#80ff00","#00ff00","#00cc5a","#009ba0","#005ad2","#0000ff","#4600be","#800080"]},
 "legend": {"title": "Salinity [PSU]", "orient": "none", "legendX": 3.3, "legendY": 213, "symbolType": "M-1,-1H2.85V1H-1Z", "symbolSize": 140, "labelAlign": "right", "labelOffset": 74, "rowPadding": 0, "titlePadding": 3.5, "clipHeight": 12.6}},
"detail": {"field": "poly"},
"order": {"value": null}
},
"layer": [
{"transform": [{"filter": {"field": "cls", "equal": "2.8 - 3.0"}}], "mark": {"type": "line", "stroke": "#3a3a3a", "strokeWidth": 0.6, "strokeJoin": "round"}},
{"transform": [{"filter": {"field": "cls", "equal": "2.6 - 2.8"}}], "mark": {"type": "line", "stroke": "#3a3a3a", "strokeWidth": 0.6, "strokeJoin": "round"}},
{"transform": [{"filter": {"field": "cls", "equal": "2.4 - 2.6"}}], "mark": {"type": "line", "stroke": "#3a3a3a", "strokeWidth": 0.6, "strokeJoin": "round"}},
{"transform": [{"filter": {"field": "cls", "equal": "2.2 - 2.4"}}], "mark": {"type": "line", "stroke": "#3a3a3a", "strokeWidth": 0.6, "strokeJoin": "round"}},
{"transform": [{"filter": {"field": "cls", "equal": "2.0 - 2.2"}}], "mark": {"type": "line", "stroke": "#3a3a3a", "strokeWidth": 0.6, "strokeJoin": "round"}},
{"transform": [{"filter": {"field": "cls", "equal": "3.0 - 3.2"}}], "mark": {"type": "line", "stroke": "#3a3a3a", "strokeWidth": 0.6, "strokeJoin": "round"}},
{"transform": [{"filter": {"field": "cls", "equal": "3.2 - 3.4"}}], "mark": {"type": "line", "stroke": "#3a3a3a", "strokeWidth": 0.6, "strokeJoin": "round"}},
{"transform": [{"filter": {"field": "cls", "equal": "3.4 - 3.6"}}], "mark": {"type": "line", "stroke": "#3a3a3a", "strokeWidth": 0.6, "strokeJoin": "round"}},
{"transform": [{"filter": {"field": "cls", "equal": "Above 3.6"}}], "mark": {"type": "line", "stroke": "#3a3a3a", "strokeWidth": 0.6, "strokeJoin": "round"}}
]
},
{"data": {"name": "labB"}, "mark": {"type": "text", "font": "Liberation Sans", "fontSize": 12, "align": "center", "baseline": "middle", "color": "#111"},
 "encoding": {"text": {"field": "t"}, "angle": {"field": "a", "type": "quantitative", "scale": null}}},
{"data": {"values": [{"t": "b", "x": 0.372, "y": -74.8}]}, "mark": {"type": "text", "font": "DejaVu Serif", "fontSize": 27, "fontWeight": "bold", "align": "center", "baseline": "alphabetic", "color": "#000"},
 "encoding": {"text": {"field": "t"}}}
]
}
],
"config": {
"font": "Liberation Sans",
"view": {"stroke": "#a8a8a8", "strokeWidth": 1.5},
"axis": {"domain": false, "grid": false, "tickSize": 3, "tickColor": "#8a8a8a", "labelFont": "Liberation Sans", "labelFontSize": 14, "labelFontWeight": "bold", "labelColor": "#222", "labelOverlap": false, "labelFlush": false, "titleFont": "Liberation Sans", "titleFontSize": 14, "titleFontWeight": "bold", "titleColor": "#222"},
"legend": {"titleFont": "Liberation Sans", "titleFontSize": 12.5, "titleFontWeight": "bold", "titleColor": "#222", "labelFont": "Liberation Sans", "labelFontSize": 12, "labelFontWeight": "bold", "labelColor": "#222", "labelLimit": 0, "padding": 0, "symbolStrokeWidth": 0.8, "symbolStrokeColor": "#444"}
}
}
